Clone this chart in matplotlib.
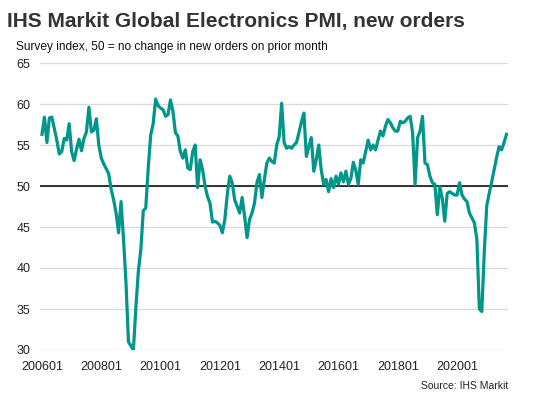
import numpy as np
import matplotlib.pyplot as plt

# --- Данные: индекс новых заказов, помесячно ---
values = [
    56.3, 58.4, 55.3, 58.3, 58.4, 57.0, 55.6, 53.9, 54.2, 55.8,
    55.6, 57.6, 54.2, 53.1, 54.5, 55.7, 54.3, 55.8, 56.6, 59.6,
    56.6, 56.8, 58.2, 55.0, 53.4, 52.7, 52.1, 51.5, 49.6, 48.3,
    46.7, 44.3, 48.1, 43.5, 38.2, 31.0, 30.5, 30.0, 35.2, 39.6,
    42.2, 47.0, 47.3, 52.2, 56.2, 57.6, 60.6, 59.8, 59.5, 59.3,
    58.5, 58.7, 60.5, 59.1, 56.5, 56.1, 54.2, 53.4, 54.4, 52.2,
    52.0, 54.2, 55.0, 49.8, 53.2, 52.0, 50.0, 48.7, 47.9, 45.6,
    45.7, 45.5, 45.2, 44.3, 45.9, 49.0, 51.2, 50.4, 48.3, 47.5,
    46.7, 48.6, 46.3, 43.7, 45.9, 46.7, 47.9, 50.4, 51.4, 48.6,
    50.8, 52.8, 53.4, 53.0, 52.8, 55.0, 56.0, 60.1, 55.3, 54.6,
    54.8, 54.6, 55.0, 55.3, 56.5, 57.8, 58.9, 53.6, 54.8, 55.9,
    51.8, 53.2, 55.0, 52.0, 50.2, 50.8, 49.3, 50.9, 49.8, 51.2,
    50.2, 51.6, 50.5, 51.8, 50.2, 50.9, 52.9, 51.9, 50.2, 53.2,
    52.8, 54.2, 55.6, 54.4, 55.0, 54.4, 55.6, 56.7, 56.1, 57.3,
    58.1, 57.7, 57.1, 56.7, 56.7, 57.9, 57.7, 57.9, 58.3, 58.5,
    56.5, 50.2, 55.9, 56.7, 58.5, 52.8, 52.6, 51.2, 50.4, 50.2,
    46.5, 49.9, 48.5, 45.7, 49.1, 49.3, 49.1, 48.9, 48.9, 50.4,
    48.9, 48.4, 48.1, 46.7, 46.1, 45.5, 43.5, 35.0, 34.7, 42.0,
    47.6, 49.1, 50.5, 52.0, 53.5, 54.8, 54.4, 55.3, 56.3,
]
tick_labels = ["200601", "200801", "201001", "201201",
               "201401", "201601", "201801", "202001"]
yticks = [30, 35, 40, 45, 50, 55, 60, 65]

x = np.arange(len(values))
tick_pos = np.arange(len(tick_labels)) * 24

plt.rcParams['font.family'] = ['Liberation Sans', 'DejaVu Sans']

fig = plt.figure(figsize=(5.38, 3.97), dpi=100)
ax = fig.add_axes([40 / 538, 1 - 350 / 397, 468 / 538, 287 / 397])

ax.plot(x, values, color="#00968a", linewidth=2.3, solid_joinstyle="round", zorder=3)
ax.axhline(50, color="black", linewidth=1.1, zorder=2)

ax.set_ylim(30, 65)
ax.set_xlim(-0.8, 188.6)
ax.set_yticks(yticks)
ax.set_xticks(tick_pos)
ax.set_xticklabels(tick_labels)
ax.grid(axis="y", color="#d9d9d9", linewidth=0.9, zorder=0)
ax.tick_params(length=0, labelsize=9, colors="#222222")
ax.tick_params(axis="y", pad=7)
ax.tick_params(axis="x", pad=8)
for s in ax.spines.values():
    s.set_visible(False)

fig.text(7 / 538, 1 - 27 / 397, "IHS Markit Global Electronics PMI, new orders",
         fontsize=15, fontweight="bold", color="#333333")
fig.text(16 / 538, 1 - 50 / 397, "Survey index, 50 = no change in new orders on prior month",
         fontsize=8.6, color="#111111")
fig.text(508 / 538, 1 - 389 / 397, "Source: IHS Markit",
         fontsize=7.5, color="#222222", ha="right")

fig.savefig("out.png", dpi=100)
